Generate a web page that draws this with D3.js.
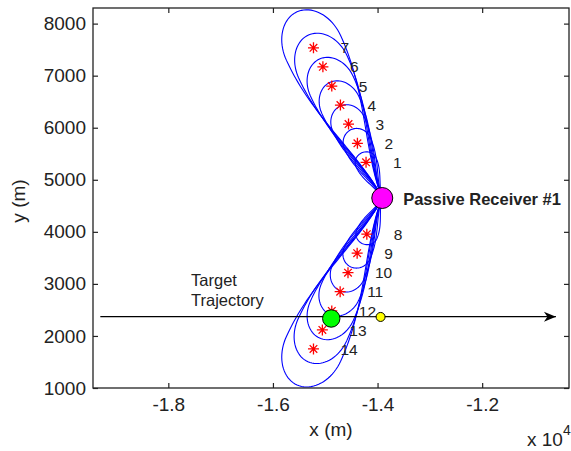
<!DOCTYPE html>
<html>
<head>
<meta charset="utf-8">
<script src="https://cdn.jsdelivr.net/npm/d3@7"></script>
<style>
  body { margin: 0; background: #fff; }
  text { font-family: Arial, "Liberation Sans", Helvetica, sans-serif; fill: #222; }
</style>
</head>
<body>
<svg id="chart" width="571" height="451"></svg>
<script>
let ptLabels = ["1", "2", "3", "4", "5", "6", "7", "8", "9", "10", "11", "12", "13", "14"]
let xEst = [-14220, -14385, -14555, -14710, -14875, -15045, -15225,
            -14205, -14390, -14565, -14715, -14875, -15055, -15225]
let yEst = [5335, 5700, 6070, 6435, 6800, 7170, 7535,
            3955, 3590, 3215, 2850, 2480, 2115, 1750]
// far-side extent and half width of each uncertainty region (m)
let rangeErr = [200, 290, 380, 480, 570, 670, 760,
                200, 290, 380, 480, 570, 670, 760]
let crossErr = [210, 270, 330, 390, 450, 510, 570,
                210, 270, 330, 390, 450, 510, 570]
let receiver = [-13910, 4650]
let greenPt = [-14885, 2335]
let yellowPt = [-13942, 2365]
let trajX = [-19300, -10590]
let trajY = 2370
let xTicks = [-18000, -16000, -14000, -12000]
let xTickLabels = ["-1.8", "-1.6", "-1.4", "-1.2"]
let yTicks = [1000, 2000, 3000, 4000, 5000, 6000, 7000, 8000]

let svg = d3.select("#chart")
let pLeft = 93, pRight = 569, pTop = 8, pBottom = 388

let x = d3.scaleLinear().domain([-19440, -10340]).range([pLeft, pRight])
let y = d3.scaleLinear().domain([1000, 8300]).range([pBottom, pTop])

let defs = svg.append("defs")
defs.append("clipPath").attr("id", "plot")
    .append("rect")
    .attr("x", pLeft).attr("y", pTop)
    .attr("width", pRight - pLeft).attr("height", pBottom - pTop)

defs.append("marker")
    .attr("id", "arrow")
    .attr("viewBox", "-13 -6 14 12")
    .attr("refX", 0).attr("refY", 0)
    .attr("markerUnits", "userSpaceOnUse")
    .attr("markerWidth", 14).attr("markerHeight", 12)
    .attr("orient", "auto")
    .append("path")
    .attr("d", "M0,0 L-12,-5 L-8.5,0 L-12,5 Z")
    .attr("fill", "black")

// tail profile of a region, from the receiver (s=0) to the estimate (s=1)
function tail(s) {
    return Math.pow(Math.sin(Math.PI / 2 * s), 1.6)
}

function region(i) {
    let sx = xEst[i], sy = yEst[i]
    let dx = sx - receiver[0], dy = sy - receiver[1]
    let R = Math.hypot(dx, dy)
    let ux = dx / R, uy = dy / R, px = -uy, py = ux
    let a = rangeErr[i], w = crossErr[i]
    let pts = []
    let n = 40
    for (let k = 0; k <= n; k++) {
        let s = k / n
        let along = -R * (1 - s)
        let side = w * tail(s)
        pts.push([sx + ux * along + px * side, sy + uy * along + py * side])
    }
    for (let k = 1; k < n; k++) {
        let t = Math.PI / 2 - Math.PI * k / n
        let along = a * Math.cos(t), side = w * Math.sin(t)
        pts.push([sx + ux * along + px * side, sy + uy * along + py * side])
    }
    for (let k = n; k >= 0; k--) {
        let s = k / n
        let along = -R * (1 - s)
        let side = -w * tail(s)
        pts.push([sx + ux * along + px * side, sy + uy * along + py * side])
    }
    return pts
}

let line = d3.line()
    .x(d => x(d[0]))
    .y(d => y(d[1]))
    .curve(d3.curveLinearClosed)

let plot = svg.append("g").attr("clip-path", "url(#plot)")

plot.selectAll(".region")
    .data(d3.range(xEst.length).reverse())
    .join("path")
    .attr("class", "region")
    .attr("d", i => line(region(i)))
    .style("fill", "none")
    .style("stroke", "#0000ff")
    .style("stroke-width", 1.1)

plot.append("line")
    .attr("x1", x(trajX[0])).attr("x2", x(trajX[1]))
    .attr("y1", y(trajY)).attr("y2", y(trajY))
    .style("stroke", "black")
    .style("stroke-width", 1.3)
    .attr("marker-end", "url(#arrow)")

plot.selectAll(".star")
    .data(d3.range(xEst.length))
    .join("path")
    .attr("class", "star")
    .attr("transform", i => `translate(${x(xEst[i])},${y(yEst[i])})`)
    .attr("d", "M-5.5,0L5.5,0M0,-5.5L0,5.5M-3.8,-3.8L3.8,3.8M-3.8,3.8L3.8,-3.8")
    .style("stroke", "#ff0000")
    .style("stroke-width", 1.3)

let dots = [
    { p: receiver, r: 10.5, c: "#ff00ff" },
    { p: greenPt, r: 8.7, c: "#00ff00" },
    { p: yellowPt, r: 4.5, c: "#ffff00" }
]
plot.selectAll(".dot")
    .data(dots)
    .join("circle")
    .attr("class", "dot")
    .attr("cx", d => x(d.p[0]))
    .attr("cy", d => y(d.p[1]))
    .attr("r", d => d.r)
    .style("fill", d => d.c)
    .style("stroke", "black")
    .style("stroke-width", 1)

svg.selectAll(".ptlabel")
    .data(d3.range(xEst.length))
    .join("text")
    .attr("class", "ptlabel")
    .attr("x", i => x(xEst[i] + 516))
    .attr("y", i => y(yEst[i]))
    .attr("dy", "0.36em")
    .style("font-size", "15.5px")
    .text(i => ptLabels[i])

svg.append("text")
    .attr("x", x(receiver[0] + 400))
    .attr("y", y(receiver[1]))
    .attr("dy", "0.45em")
    .style("font-size", "16.5px")
    .style("font-weight", "bold")
    .text("Passive Receiver #1")

let tt = svg.append("text")
    .attr("x", x(-17565))
    .attr("y", y(2960))
    .style("font-size", "16.5px")
tt.append("tspan").attr("x", x(-17565)).text("Target")
tt.append("tspan").attr("x", x(-17565)).attr("dy", 20).text("Trajectory")

// axes, MATLAB style: box with inward ticks
let xAxis = svg.append("g")
    .attr("transform", `translate(0,${pBottom})`)
    .call(d3.axisBottom(x).tickValues(xTicks).tickSize(-5).tickPadding(10)
        .tickFormat((d, i) => xTickLabels[i]))
let xTop = svg.append("g")
    .attr("transform", `translate(0,${pTop})`)
    .call(d3.axisTop(x).tickValues(xTicks).tickSize(-5).tickFormat(""))
let yAxis = svg.append("g")
    .attr("transform", `translate(${pLeft},0)`)
    .call(d3.axisLeft(y).tickValues(yTicks).tickSize(-5).tickPadding(7)
        .tickFormat(d3.format("d")))
let yRight = svg.append("g")
    .attr("transform", `translate(${pRight},0)`)
    .call(d3.axisRight(y).tickValues(yTicks).tickSize(-5).tickFormat(""))

svg.selectAll(".domain").remove()
svg.selectAll(".tick line").style("stroke", "#222").style("stroke-width", 1.2)
svg.selectAll(".tick text")
    .style("font-size", "19px")
    .style("font-family", "Arial, 'Liberation Sans', sans-serif")
    .style("fill", "#222")

svg.append("rect")
    .attr("x", pLeft).attr("y", pTop)
    .attr("width", pRight - pLeft).attr("height", pBottom - pTop)
    .style("fill", "none")
    .style("stroke", "#222")
    .style("stroke-width", 1.3)

svg.append("text")
    .attr("x", 331).attr("y", 436)
    .attr("text-anchor", "middle")
    .style("font-size", "19px")
    .text("x (m)")

svg.append("text")
    .attr("transform", "translate(25,201) rotate(-90)")
    .attr("text-anchor", "middle")
    .style("font-size", "19px")
    .text("y (m)")

let sci = svg.append("text")
    .attr("x", 527).attr("y", 446)
    .style("font-size", "19px")
sci.append("tspan").text("x 10")
sci.append("tspan").attr("dy", -11).style("font-size", "14px").text("4")
</script>
</body>
</html>
